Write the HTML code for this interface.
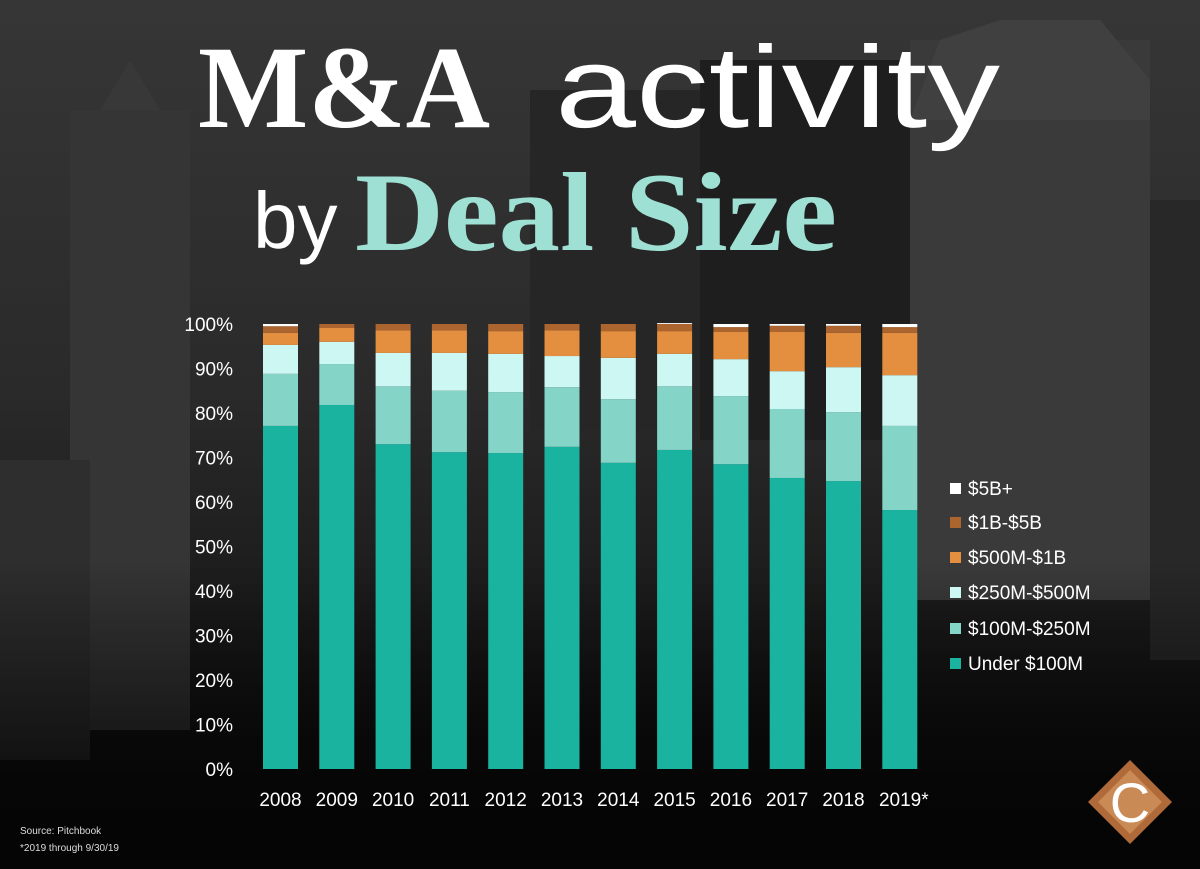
<!DOCTYPE html>
<html><head><meta charset="utf-8"><style>
body{margin:0;background:#000}
#wrap{position:relative;width:1200px;height:869px;overflow:hidden;background:linear-gradient(180deg,#363636 0%,#2a2a2a 45%,#181818 75%,#050505 100%);font-family:"Liberation Sans",sans-serif}
</style></head><body>
<div id="wrap">
<svg width="1200" height="869" style="position:absolute;left:0;top:0">
<defs><linearGradient id="fade" x1="0" y1="0" x2="0" y2="1"><stop offset="0" stop-color="#000" stop-opacity="0"/><stop offset="1" stop-color="#050505" stop-opacity="1"/></linearGradient></defs>
<g>
<rect x="70" y="110" width="120" height="620" fill="#353535"/>
<polygon points="100,110 130,60 160,110" fill="#383838"/>
<rect x="0" y="460" width="90" height="300" fill="#2e2e2e"/>
<rect x="530" y="90" width="170" height="340" fill="#262626"/>
<rect x="700" y="60" width="210" height="380" fill="#1e1e1e"/>
<rect x="910" y="40" width="240" height="560" fill="#3a3a3a"/>
<polygon points="940,40 1000,20 1100,20 1150,80 1150,120 910,120" fill="#404040"/>
<rect x="1150" y="200" width="50" height="460" fill="#282828"/>
<rect x="0" y="560" width="1200" height="309" fill="url(#fade)"/>
</g>
<text x="198" y="127" font-family="Liberation Serif,serif" font-weight="bold" font-size="118" fill="#fff" textLength="292" lengthAdjust="spacingAndGlyphs">M&amp;A</text>
<text x="555" y="127" font-family="Liberation Sans,sans-serif" font-size="116" fill="#fff" textLength="445" lengthAdjust="spacingAndGlyphs">activity</text>
<text x="253" y="248" font-family="Liberation Sans,sans-serif" font-size="80" fill="#fff">by</text>
<text x="355" y="250" font-family="Liberation Serif,serif" font-weight="bold" font-size="112" fill="#9fe0d5" textLength="482" lengthAdjust="spacingAndGlyphs">Deal Size</text>
<g id="yaxis"></g><g id="bars"></g><g id="xaxis"></g><g id="legend"></g>
<text x="20" y="834" font-size="10" fill="#ddd">Source: Pitchbook</text>
<text x="20" y="851" font-size="10" fill="#ddd">*2019 through 9/30/19</text>
<g>
<polygon points="1130,760 1172,802 1130,844 1088,802" fill="#b06a3a"/>
<polygon points="1130,770 1162,802 1130,834 1098,802" fill="#c98a55"/>
<text x="1130" y="822" text-anchor="middle" font-size="56" fill="#fff" font-family="Liberation Sans,sans-serif">C</text>
</g>
</svg>
<script>
const years=["2008","2009","2010","2011","2012","2013","2014","2015","2016","2017","2018","2019*"];
const seriesNames=["Under $100M","$100M-$250M","$250M-$500M","$500M-$1B","$1B-$5B","$5B+"];
const under100=[77.1,81.8,73.0,71.2,71.0,72.4,68.8,71.7,68.5,65.4,64.7,58.2];
const m100to250=[11.7,9.2,13.0,13.8,13.7,13.4,14.3,14.3,15.3,15.5,15.5,18.9];
const m250to500=[6.5,5.0,7.5,8.5,8.6,7.0,9.3,7.3,8.3,8.5,10.1,11.4];
const m500to1b=[2.7,3.1,5.1,5.1,5.1,5.8,6.0,5.1,6.1,8.8,7.7,9.5];
const b1to5=[1.5,0.9,1.4,1.4,1.6,1.4,1.6,1.6,1.1,1.4,1.6,1.3];
const b5plus=[0.5,0.0,0.0,0.0,0.0,0.0,0.0,0.2,0.7,0.4,0.4,0.7];
const yTicks=[0,10,20,30,40,50,60,70,80,90,100];
const colors=["#1ab3a0","#84d4c8","#cdf7f2","#e48f3f","#ad6530","#ffffff"];
const series=[under100,m100to250,m250to500,m500to1b,b1to5,b5plus];
const NS="http://www.w3.org/2000/svg";
const y0=769,y1=324;
const yS=v=>y0-(y0-y1)*v/100;
const xS=i=>263+i*56.3;
const bw=35;
function mk(t,a,p){const e=document.createElementNS(NS,t);for(const k in a)e.setAttribute(k,a[k]);p.appendChild(e);return e;}
const ya=document.getElementById('yaxis');
yTicks.forEach(t=>{const e=mk('text',{x:233,y:yS(t)+7,'text-anchor':'end','font-size':19,fill:'#fff'},ya);


e.textContent=t+'%';});
const bg=document.getElementById('bars');
years.forEach((yr,i)=>{let c=0;series.forEach((s,k)=>{const v=s[i];if(v<=0){c+=v;return;}
const r=mk('rect',{x:xS(i),y:yS(c+v),width:bw,height:yS(c)-yS(c+v),fill:colors[k]},bg);


c+=v;});});
const xa=document.getElementById('xaxis');
years.forEach((yr,i)=>{const e=mk('text',{x:xS(i)+bw/2+(yr.endsWith('*')?4:0),y:806,'text-anchor':'middle','font-size':19,fill:'#fff'},xa);


e.textContent=yr;});
const lg=document.getElementById('legend');
const ly=[488,522,557,592,628,663];
[5,4,3,2,1,0].forEach((k,j)=>{const g=mk('g',{},lg);


mk('rect',{x:950,y:ly[j]-5,width:11,height:11,fill:colors[k]},g);
const t=mk('text',{x:968,y:ly[j]+7,'font-size':19,fill:'#fff'},g);t.textContent=seriesNames[k];});
</script>
</div></body></html>
